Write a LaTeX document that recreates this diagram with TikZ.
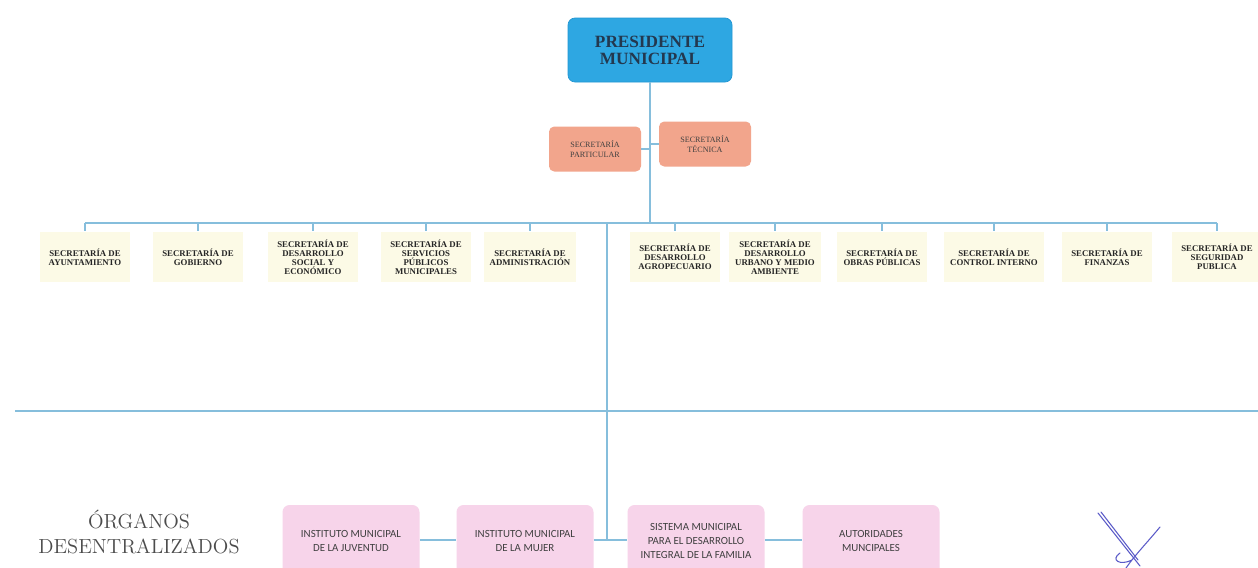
\documentclass[tikz,border=0pt]{standalone}
\usepackage{fontspec}
\newfontfamily\tnr{Liberation Serif}
\newfontfamily\carl{Carlito}
\definecolor{linec}{HTML}{86BEDC}
\definecolor{presfill}{HTML}{2EA7E2}
\definecolor{presdraw}{HTML}{2196D2}
\definecolor{prestext}{HTML}{23384F}
\definecolor{secfill}{HTML}{F2A58C}
\definecolor{yelfill}{HTML}{FCFAE6}
\definecolor{pinkfill}{HTML}{F7D4EA}
\definecolor{sigc}{HTML}{5A5AC8}
\begin{document}
\begin{tikzpicture}[x=0.02cm,y=-0.02cm,
  conn/.style={draw=linec, line width=0.7pt},
  pres/.style={fill=presfill, draw=presdraw, rounded corners=4pt, minimum width=164*0.02cm, minimum height=64*0.02cm, align=center, text=presText, font=\tnr\bfseries\fontsize{9.8}{9.8}\selectfont},
  secbox/.style={fill=secfill, rounded corners=3pt, minimum width=92*0.02cm, minimum height=45*0.02cm, align=center, text=black!75, font=\tnr\fontsize{4.6}{5.6}\selectfont},
  ybox/.style={fill=yelfill, minimum width=90*0.02cm, minimum height=50*0.02cm, align=center, text=black!85, font=\tnr\bfseries\fontsize{5}{5.2}\selectfont},
  pbox/.style={fill=pinkfill, rounded corners=4pt, minimum width=137*0.02cm, minimum height=72*0.02cm, align=center, text=black!75, font=\carl\fontsize{6.2}{8.2}\selectfont},
]
\colorlet{presText}{prestext}
\clip (0,0) rectangle (1258,568);
\fill[white] (0,0) rectangle (1258,568);

% president
\node[pres] (pres) at (650,50) {PRESIDENTE\\MUNICIPAL};
\node[secbox] (part) at (595,149) {SECRETARÍA\\PARTICULAR};
\node[secbox] (tec) at (705,144) {SECRETARÍA\\TÉCNICA};

\coordinate (bar) at (650,223);
\coordinate (jp) at (650,149);
\coordinate (jt) at (650,144);
\draw[conn] (pres.south) -- (bar);
\draw[conn] (part.east) -- (jp);
\draw[conn] (tec.west) -- (jt);

% secretariats
\foreach \n/\x/\t in {
 s1/85/{SECRETARÍA DE\\AYUNTAMIENTO},
 s2/198/{SECRETARÍA DE\\GOBIERNO},
 s3/313/{SECRETARÍA DE\\DESARROLLO\\SOCIAL Y\\ECONÓMICO},
 s4/426/{SECRETARÍA DE\\SERVICIOS\\PÚBLICOS\\MUNICIPALES},
 s5/530/{SECRETARÍA DE\\ADMINISTRACIÓN},
 s6/675/{SECRETARÍA DE\\DESARROLLO\\AGROPECUARIO},
 s7/775/{SECRETARÍA DE\\DESARROLLO\\URBANO Y MEDIO\\AMBIENTE},
 s8/882/{SECRETARÍA DE\\OBRAS PÚBLICAS},
 s9/994/{SECRETARÍA DE\\CONTROL INTERNO},
 s10/1107/{SECRETARÍA DE\\FINANZAS},
 s11/1217/{SECRETARÍA DE\\SEGURIDAD\\PUBLICA}}
{
 \node[ybox] (\n) at (\x,257) {\t};
 \coordinate (\n top) at (\x,223);
 \draw[conn] (\n top) -- ++(0,8);
}
\draw[conn] (s1top) -- (s11top);

% separator line
\coordinate (sepL) at (15,411);
\coordinate (sepR) at (1258,411);
\draw[conn] (sepL) -- (sepR);

% decentralized organs
\node[font=\fontsize{11.6}{14.7}\selectfont, text=black!70, align=center] (org) at (139,532) {ÓRGANOS\\DESENTRALIZADOS};

\node[pbox] (p1) at (351,541) {INSTITUTO MUNICIPAL\\DE LA JUVENTUD};
\node[pbox] (p2) at (525,541) {INSTITUTO MUNICIPAL\\DE LA MUJER};
\node[pbox] (p3) at (696,541) {SISTEMA MUNICIPAL\\PARA EL DESARROLLO\\INTEGRAL DE LA FAMILIA};
\node[pbox] (p4) at (871,541) {AUTORIDADES\\MUNCIPALES};

\coordinate (trTop) at (607,223);
\coordinate (trBot) at (607,540);
\draw[conn] (trTop) -- (trBot);
\draw[conn] (p1.east |- 0,540) -- (p2.west |- 0,540);
\draw[conn] (p2.east |- 0,540) -- (p3.west |- 0,540);
\draw[conn] (p3.east |- 0,540) -- (p4.west |- 0,540);

% signature
\draw[sigc, line width=0.6pt, line cap=round] (1098,513) -- (1140,566) (1101,512) -- (1138,560)
  (1160,527) .. controls (1145,545) and (1135,555) .. (1126,568)
  (1120,553) .. controls (1110,560) and (1120,566) .. (1132,560);
\end{tikzpicture}
\end{document}
